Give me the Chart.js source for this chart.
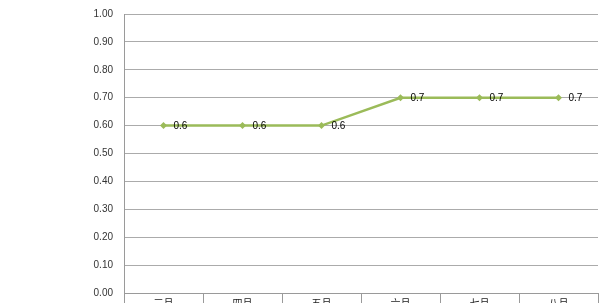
<!DOCTYPE html>
<html>
<head>
<meta charset="utf-8">
<script src="https://cdn.jsdelivr.net/npm/chart.js@4"></script>
<style>
  html, body { margin: 0; padding: 0; background: #fff; }
  #wrap { width: 608px; height: 303px; position: relative; }
</style>
</head>
<body>
<div id="wrap"><canvas id="rateChart"></canvas></div>
<script>
// --- chart data ---
const months = ['三月', '四月', '五月', '六月', '七月', '八月'];
const rates = [0.6, 0.6, 0.6, 0.7, 0.7, 0.7];
const yTicks = [0, 0.1, 0.2, 0.3, 0.4, 0.5, 0.6, 0.7, 0.8, 0.9, 1.0];

const lineGreen = '#9bbb59';

// little labels to the right of every point
const pointLabels = {
    id: 'pointLabels',
    afterDatasetsDraw(chart) {
        const ctx = chart.ctx;
        const meta = chart.getDatasetMeta(0);
        ctx.save();
        ctx.font = '10px "Liberation Sans", Arial, sans-serif';
        ctx.fillStyle = '#000';
        ctx.textAlign = 'left';
        ctx.textBaseline = 'middle';
        meta.data.forEach((pt, i) => {
            ctx.fillText(String(rates[i]), pt.x + 10, pt.y + 1);
        });
        ctx.restore();
    }
};

const ctx = document.getElementById('rateChart').getContext('2d');
new Chart(ctx, {
    type: 'line',
    data: {
        labels: months,
        datasets: [{
            data: rates,
            borderColor: lineGreen,
            backgroundColor: lineGreen,
            borderWidth: 2.5,
            pointStyle: 'rectRot',
            pointRadius: 3.5,
            pointBorderWidth: 0,
            tension: 0
        }]
    },
    options: {
        responsive: true,
        maintainAspectRatio: false,
        animation: false,
        layout: { padding: { top: 14, right: 10, left: 0, bottom: 0 } },
        plugins: {
            legend: { display: false },
            tooltip: { enabled: false }
        },
        scales: {
            x: {
                offset: true,
                grid: {
                    offset: true,
                    drawOnChartArea: false,
                    color: '#9a9a9a',
                    tickLength: 14
                },
                border: { color: '#9a9a9a' },
                ticks: {
                    color: '#222',
                    padding: -10,
                    autoSkip: false,
                    maxRotation: 0,
                    minRotation: 0,
                    font: { size: 10, family: '"Noto Sans CJK SC", sans-serif' }
                },
                // keep labels flat and the axis thin, so the labels run off the bottom
                afterCalculateLabelRotation(axis) { axis.labelRotation = 0; },
                afterFit(axis) {
                    axis.height = 10;
                    axis.paddingLeft = 0;
                    axis.paddingRight = 0;
                }
            },
            y: {
                min: 0,
                max: 1,
                afterBuildTicks(axis) {
                    axis.ticks = yTicks.map(v => ({ value: v }));
                },
                grid: {
                    color: '#ababab',
                    drawTicks: false
                },
                border: { color: '#9a9a9a' },
                ticks: {
                    color: '#333',
                    padding: 11,
                    font: { size: 10, family: '"Liberation Sans", Arial, sans-serif' },
                    callback: v => v.toFixed(2)
                },
                afterFit(axis) {
                    axis.width = 124;
                    axis.paddingTop = 0;
                    axis.paddingBottom = 0;
                }
            }
        }
    },
    plugins: [pointLabels]
});
</script>
</body>
</html>
